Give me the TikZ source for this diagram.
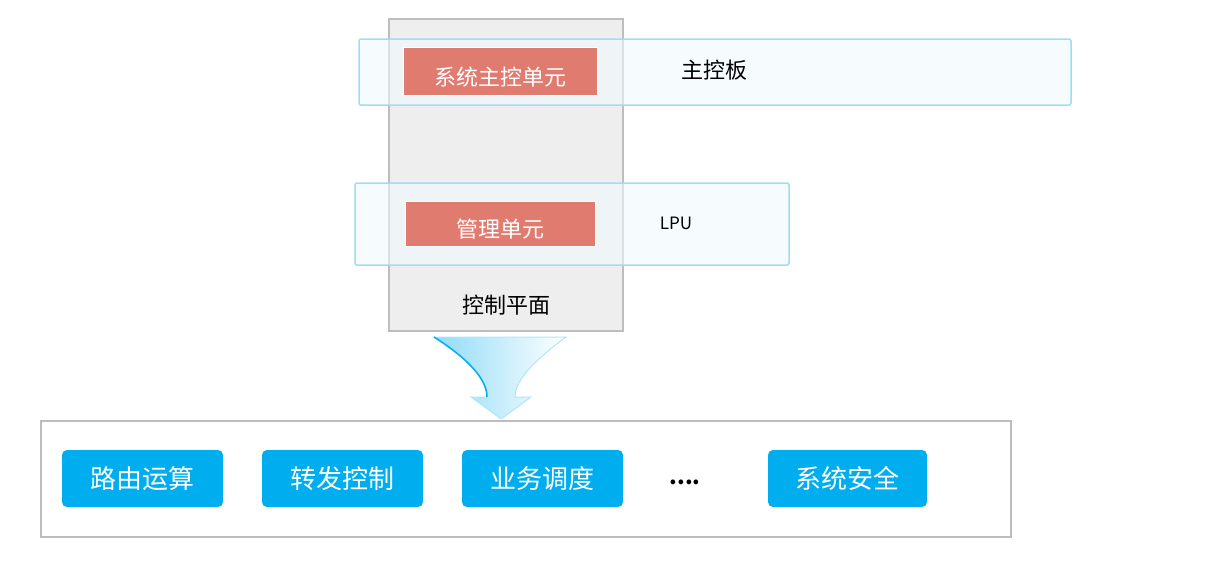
\documentclass[tikz,border=0pt]{standalone}
\usepackage{fontspec}
\setmainfont{Noto Sans CJK SC}
\definecolor{lb}{HTML}{F0FAFD}\definecolor{lbd}{HTML}{9FDDF5}
\definecolor{gr}{HTML}{EEEEEE}\definecolor{grd}{HTML}{BDBDBD}
\definecolor{rd}{HTML}{E07B70}\definecolor{bl}{HTML}{00AEEF}
\definecolor{ar}{HTML}{8FDBF7}
\begin{document}
\begin{tikzpicture}[x=1pt,y=-1pt,
 lt/.style={draw=lbd,fill=lb,fill opacity=0.6,line width=1.5pt,rounded corners=2pt},
 red/.style={fill=rd,draw=white,line width=1pt,text=white,font=\fontsize{22}{22}\selectfont},
 pill/.style={fill=bl,rounded corners=5pt,text=white,font=\fontsize{26}{26}\selectfont}]
\useasboundingbox (0,0) rectangle (1232,566);
\draw[fill=gr,draw=grd,line width=1.5pt] (389,19) rectangle (623,331);
\node (cp) at (506,305) {\fontsize{22}{22}\selectfont 控制平面};
\draw[lt] (359,39) rectangle (1071,105);
\draw[lt] (355,183) rectangle (789,265);
\draw[red] (403,47) rectangle (597,95) node[midway,yshift=-6pt,text opacity=1] (r1) {系统主控单元};
\draw[red] (405,201) rectangle (595,246) node[midway,yshift=-6pt] (r2) {管理单元};
\node (zk) at (714,70) {\fontsize{22}{22}\selectfont 主控板};
\node (lpu) at (676,223) {\fontsize{17}{17}\selectfont LPU};
\shade[left color=ar,right color=white,draw=ar!70,line width=1pt]
 (434,337) .. controls (470,360) and (487,380) .. (487,397) -- (471,397) -- (501,419) -- (531,397) -- (515,397)
 .. controls (515,380) and (535,360) .. (566,337) -- cycle;
\draw[bl,line width=1.5pt] (434,337) .. controls (470,360) and (487,380) .. (487,397);
\draw[draw=grd,line width=1.5pt] (41,421) rectangle (1011,537);
\node[pill,minimum width=161pt,minimum height=57pt] (p1) at (142.5,478.5) {路由运算};
\node[pill,minimum width=161pt,minimum height=57pt] (p2) at (342.5,478.5) {转发控制};
\node[pill,minimum width=161pt,minimum height=57pt] (p3) at (542.5,478.5) {业务调度};
\node (dots) at (685,482) {\fontsize{22}{22}\selectfont\bfseries ....};
\node[pill,minimum width=159pt,minimum height=57pt] (p4) at (847.5,478.5) {系统安全};
\end{tikzpicture}
\end{document}
